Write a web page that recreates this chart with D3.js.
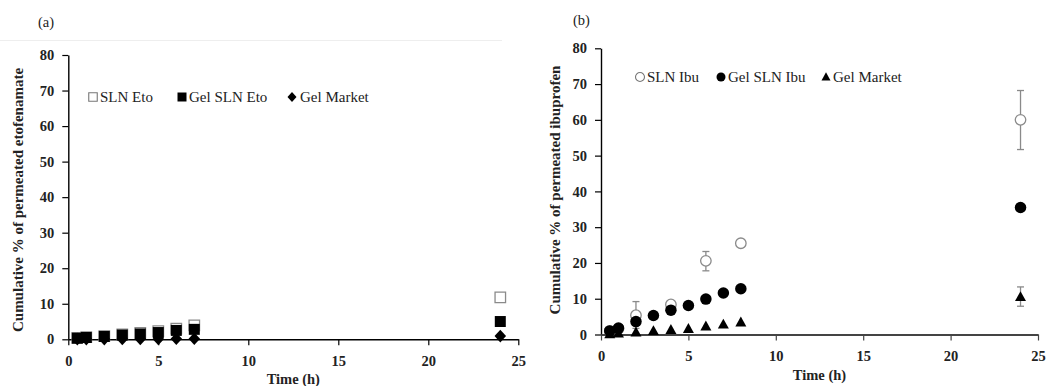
<!DOCTYPE html>
<html><head><meta charset="utf-8">
<script src="https://cdn.jsdelivr.net/npm/d3@7"></script>
<style>body{margin:0;background:#fff}svg{display:block}</style>
</head><body>
<svg id="c" width="1047" height="386"></svg>
<script>
// ---------- data ----------
const xTicks = [0, 5, 10, 15, 20, 25];
const yTicks = [0, 10, 20, 30, 40, 50, 60, 70, 80];

// panel (a) etofenamate
const timeA = [0.5, 1, 2, 3, 4, 5, 6, 7, 24];
const slnEto      = [0.4, 0.6, 0.9, 1.4, 1.8, 2.3, 3.0, 3.9, 11.8];
const slnEtoErr   = [0, 0, 0, 0, 0, 0, 0, 0, 0.4];
const gelSlnEto   = [0.3, 0.5, 0.8, 1.2, 1.5, 1.9, 2.5, 2.8, 5.0];
const gelMarketA  = [0.05, 0.05, 0.05, 0.1, 0.1, 0.1, 0.15, 0.15, 0.9];

// panel (b) ibuprofen
const timeB = [0.5, 1, 2, 4, 6, 8, 24];
const slnIbu      = [1.0, 1.6, 5.4, 8.4, 20.6, 25.5, 60.0];
const slnIbuErrLo = [0, 0, 3.7, 0.5, 2.8, 0.9, 8.3];
const slnIbuErrHi = [0, 0, 3.8, 0.5, 2.6, 0.9, 8.2];
const timeB2 = [0.5, 1, 2, 3, 4, 5, 6, 7, 8, 24];
const gelSlnIbu   = [1.0, 1.8, 3.6, 5.3, 6.8, 8.1, 9.9, 11.6, 12.8, 35.5];
const gelMarketB  = [0.1, 0.3, 0.6, 1.0, 1.3, 1.6, 2.3, 2.8, 3.4, 10.5];
const gelMarketBErrLo = [0, 0, 0, 0, 0, 0, 0, 0, 0, 2.6];
const gelMarketBErrHi = [0, 0, 0, 0, 0, 0, 0, 0, 0, 2.8];

const legendA = ["SLN Eto", "Gel SLN Eto", "Gel Market"];
const legendB = ["SLN Ibu", "Gel SLN Ibu", "Gel Market"];

// ---------- drawing ----------
const svg = d3.select("#c");
const SERIF = "'Liberation Serif','Times New Roman',serif";

// faint page separator
svg.append("line").attr("x1", 0).attr("x2", 502).attr("y1", 40.5).attr("y2", 40.5)
  .attr("stroke", "#eeeeee").attr("stroke-width", 1);

function panel(o) {
  const x = d3.scaleLinear().domain([0, 25]).range([o.x0, o.x1]);
  const y = d3.scaleLinear().domain([0, 80]).range([o.y0, o.y1]);
  const g = svg.append("g");

  // y axis
  const ya = g.append("g").attr("transform", `translate(${o.x0},0)`)
    .call(d3.axisLeft(y).tickValues(yTicks).tickSize(6).tickPadding(o.yPad).tickSizeOuter(0));
  ya.select(".domain").attr("stroke", "#000").attr("stroke-width", 1.4);
  ya.selectAll(".tick line").attr("stroke", "#000").attr("stroke-width", 1.2);
  ya.selectAll("text").attr("font-family", SERIF).attr("font-weight", "bold")
    .attr("font-size", 14.5).attr("fill", "#222");

  // x axis
  const xa = g.append("g").attr("transform", `translate(0,${o.y0})`)
    .call(d3.axisBottom(x).tickValues(xTicks).tickSize(6).tickPadding(10).tickSizeOuter(0));
  xa.select(".domain").attr("stroke", o.xAxisColor).attr("stroke-width", o.xAxisW);
  xa.selectAll(".tick line").attr("stroke", o.xAxisColor).attr("stroke-width", 1.2);
  xa.selectAll("text").attr("font-family", SERIF).attr("font-weight", "bold")
    .attr("font-size", 14.5).attr("fill", "#222");

  // titles
  g.append("text").attr("x", (o.x0 + o.x1) / 2).attr("y", o.xTitleY)
    .attr("text-anchor", "middle").attr("font-family", SERIF).attr("font-weight", "bold")
    .attr("font-size", 14.5).attr("fill", "#222").text("Time (h)");
  g.append("text").attr("transform", `translate(${o.yTitleX},${o.yTitleCY}) rotate(-90)`)
    .attr("text-anchor", "middle").attr("font-family", SERIF).attr("font-weight", "bold")
    .attr("font-size", 15).attr("fill", "#222").text(o.yTitle);
  g.append("text").attr("x", o.tagX).attr("y", o.tagY).attr("font-family", SERIF)
    .attr("font-size", 14.5).attr("fill", "#222").text(o.tag);
  return { g, x, y };
}

function sym(type, s) {
  const h = s / 2;
  if (type === "square") return `M${-h},${-h}H${h}V${h}H${-h}Z`;
  if (type === "diamond") return `M0,${-h * 1.1}L${h},0L0,${h * 1.1}L${-h},0Z`;
  if (type === "triangle") return `M0,${-h * 1.05}L${h},${h * 0.75}L${-h},${h * 0.75}Z`;
  if (type === "circle") return d3.arc()({ innerRadius: 0, outerRadius: h, startAngle: 0, endAngle: 2 * Math.PI });
}

function errBars(p, xs, ys, lo, hi) {
  xs.forEach((t, i) => {
    if (!(lo[i] > 0 || hi[i] > 0)) return;
    const cx = p.x(t), a = p.y(ys[i] - lo[i]), b = p.y(ys[i] + hi[i]);
    p.g.append("line").attr("x1", cx).attr("x2", cx).attr("y1", a).attr("y2", b)
      .attr("stroke", "#8a8a8a").attr("stroke-width", 1.3);
    [a, b].forEach(v => p.g.append("line").attr("x1", cx - 3.5).attr("x2", cx + 3.5)
      .attr("y1", v).attr("y2", v).attr("stroke", "#8a8a8a").attr("stroke-width", 1.3));
  });
}

function marks(p, xs, ys, type, size, fill, stroke) {
  p.g.append("g").selectAll("path").data(xs.map((t, i) => [t, ys[i]])).join("path")
    .attr("transform", d => `translate(${p.x(d[0])},${p.y(d[1])})`)
    .attr("d", sym(type, size)).attr("fill", fill)
    .attr("stroke", stroke).attr("stroke-width", stroke === "none" ? 0 : 1.3);
}

function legend(p, items, y) {
  items.forEach(it => {
    p.g.append("path").attr("transform", `translate(${it.mx},${y})`)
      .attr("d", sym(it.type, it.size)).attr("fill", it.fill).attr("stroke", it.stroke)
      .attr("stroke-width", it.stroke === "none" ? 0 : 1.1);
    p.g.append("text").attr("x", it.tx).attr("y", y + 5).attr("font-family", SERIF)
      .attr("font-size", 15).attr("fill", "#222").text(it.label);
  });
}

// ----- panel (a) -----
const A = panel({
  x0: 68.3, x1: 518.3, y0: 339.3, y1: 55, yPad: 8,
  xAxisColor: "#000", xAxisW: 1.4, xTitleY: 384,
  yTitle: "Cumulative % of permeated etofenamate", yTitleX: 23, yTitleCY: 200,
  tag: "(a)", tagX: 38, tagY: 27
});
errBars(A, timeA, slnEto, slnEtoErr, slnEtoErr);
marks(A, timeA, slnEto, "square", 10.5, "#fff", "#8a8a8a");
marks(A, timeA, gelSlnEto, "square", 11, "#000", "none");
marks(A, timeA, gelMarketA, "diamond", 11.5, "#000", "none");
legend(A, [
  { label: legendA[0], type: "square", size: 8.5, fill: "#fff", stroke: "#777", mx: 93, tx: 100 },
  { label: legendA[1], type: "square", size: 9, fill: "#000", stroke: "none", mx: 182, tx: 189 },
  { label: legendA[2], type: "diamond", size: 9, fill: "#000", stroke: "none", mx: 292, tx: 300 }
], 97);

// ----- panel (b) -----
const B = panel({
  x0: 601, x1: 1038, y0: 334.5, y1: 48.3, yPad: 8,
  xAxisColor: "#444", xAxisW: 2, xTitleY: 380,
  yTitle: "Cumulative % of permeated ibuprofen", yTitleX: 560, yTitleCY: 190,
  tag: "(b)", tagX: 573, tagY: 25
});
errBars(B, timeB, slnIbu, slnIbuErrLo, slnIbuErrHi);
errBars(B, timeB2, gelMarketB, gelMarketBErrLo, gelMarketBErrHi);
marks(B, timeB, slnIbu, "circle", 10.5, "#fff", "#8a8a8a");
marks(B, timeB2, gelSlnIbu, "circle", 11.5, "#000", "none");
marks(B, timeB2, gelMarketB, "triangle", 11, "#000", "none");
legend(B, [
  { label: legendB[0], type: "circle", size: 9, fill: "#fff", stroke: "#777", mx: 640, tx: 647 },
  { label: legendB[1], type: "circle", size: 9, fill: "#000", stroke: "none", mx: 721, tx: 728 },
  { label: legendB[2], type: "triangle", size: 9, fill: "#000", stroke: "none", mx: 826, tx: 833 }
], 77);
</script>
</body></html>
